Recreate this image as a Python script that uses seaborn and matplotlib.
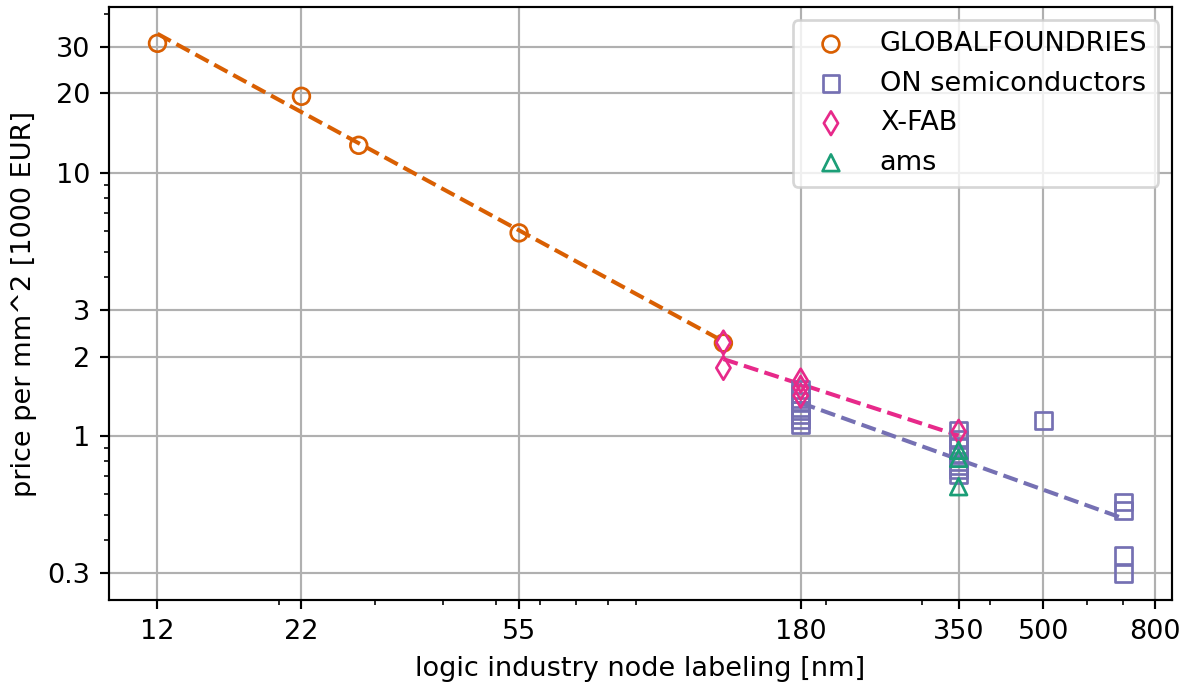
import numpy as np
import pandas as pd
import matplotlib
matplotlib.use("Agg")
import matplotlib.pyplot as plt
import matplotlib.ticker as mticker
import seaborn as sns

# ---- data ----
companies = ["GLOBALFOUNDRIES", "ON semiconductors", "X-FAB", "ams"]
colors = ["#d95f02", "#7570b3", "#e7298a", "#1b9e77"]
markers = ["o", "s", "d", "^"]

gf_nodes = [12, 22, 28, 55, 130]
gf_price = [31.0, 19.5, 12.7, 5.9, 2.25]

on_nodes = [180, 180, 180, 180, 180, 180, 180,
            350, 350, 350, 350, 350, 350, 350, 350,
            500,
            700, 700, 700, 700]
on_price = [1.10, 1.15, 1.20, 1.25, 1.35, 1.45, 1.50,
            1.05, 0.97, 0.90, 0.85, 0.80, 0.77, 0.74, 0.71,
            1.14,
            0.56, 0.52, 0.35, 0.30]

xfab_nodes = [130, 130, 180, 180, 180, 350]
xfab_price = [2.26, 1.81, 1.62, 1.52, 1.42, 1.035]

ams_nodes = [350, 350, 350]
ams_price = [0.88, 0.82, 0.64]

fit_companies = ["GLOBALFOUNDRIES", "ON semiconductors", "X-FAB"]

x_ticks = [12, 22, 55, 180, 350, 500, 800]
x_tick_labels = ["12", "22", "55", "180", "350", "500", "800"]
y_ticks = [0.3, 1, 2, 3, 10, 20, 30]
y_tick_labels = ["0.3", "1", "2", "3", "10", "20", "30"]

node_lists = [gf_nodes, on_nodes, xfab_nodes, ams_nodes]
price_lists = [gf_price, on_price, xfab_price, ams_price]

frames = []
for name, xs, ys in zip(companies, node_lists, price_lists):
    frames.append(pd.DataFrame({"node": xs, "price": ys, "company": name}))
df = pd.concat(frames, ignore_index=True)

DPI = 195
fig = plt.figure(figsize=(1187 / DPI, 686 / DPI), dpi=DPI)
ax = fig.add_axes([0.092, 0.125, 0.895, 0.865])

for name, col, mk in zip(companies, colors, markers):
    sub = df[df["company"] == name]
    sns.scatterplot(data=sub, x="node", y="price", ax=ax, marker=mk,
                    s=38, facecolor="none", edgecolor=col, linewidth=1.0,
                    label=name, zorder=3)

# power-law fit lines (least squares in log-log space)
for name, col in zip(companies, colors):
    if name not in fit_companies:
        continue
    sub = df[df["company"] == name]
    lx = np.log10(sub["node"].to_numpy(float))
    ly = np.log10(sub["price"].to_numpy(float))
    k, b = np.polyfit(lx, ly, 1)
    xe = np.array([lx.min(), lx.max()])
    fit = pd.DataFrame({"node": 10 ** xe, "price": 10 ** (k * xe + b)})
    sns.lineplot(data=fit, x="node", y="price", ax=ax, color=col,
                 linestyle="--", linewidth=1.5, legend=False, zorder=2.5)

ax.set_xscale("log")
ax.set_yscale("log")
ax.set_xticks(x_ticks, x_tick_labels)
ax.set_yticks(y_ticks, y_tick_labels)
ax.xaxis.set_minor_formatter(mticker.NullFormatter())
ax.yaxis.set_minor_formatter(mticker.NullFormatter())
ax.grid(True, which="major", color="#b0b0b0", linewidth=0.8)
ax.set_xlabel("logic industry node labeling [nm]")
ax.set_ylabel("price per mm^2 [1000 EUR]")
ax.legend(loc="upper right")

fig.savefig("out.png", dpi=DPI)
